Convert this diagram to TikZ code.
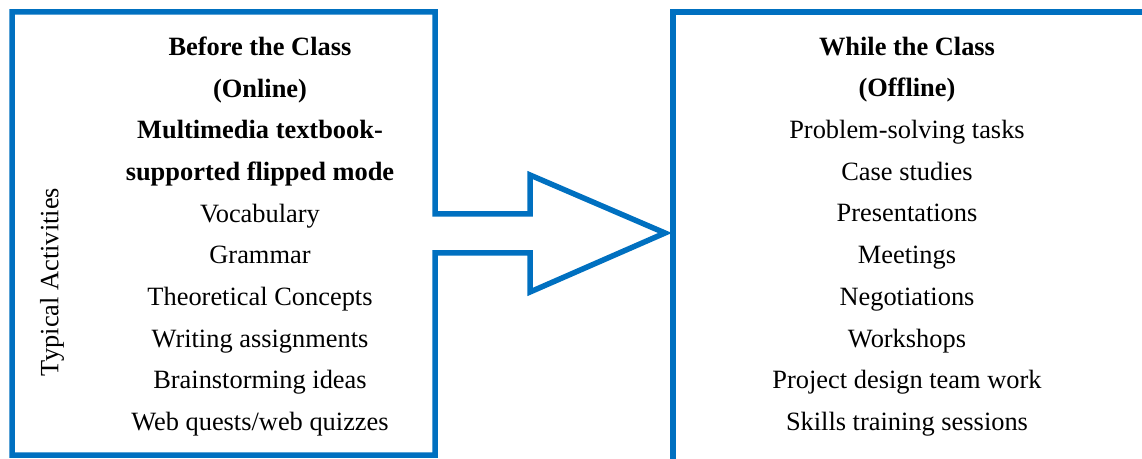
\documentclass[tikz,border=0pt]{standalone}
\usepackage{fontspec}
\setmainfont{Liberation Serif}
\usetikzlibrary{positioning,calc}
\definecolor{frameblue}{HTML}{0070C0}
\newcommand*{\ColText}{\fontsize{26.4}{41.7}\selectfont}

\begin{document}
\begin{tikzpicture}[x=1pt,y=1pt,
  outline/.style={draw=frameblue,line width=5.5pt,line join=miter},
  column/.style={align=center,font=\ColText,inner sep=0pt}]
\useasboundingbox (0,0) rectangle (1142,458);
\draw[outline] (435,244) -- (435,446) -- (12,446) -- (12,3) -- (435,3) -- (435,205)
  -- (530,205) -- (530,166) -- (665,225) -- (530,283) -- (530,244) -- cycle;
\draw[outline] (1160,446) -- (673,446) -- (673,-10);
\node[column] (before) at (260,221.5) {\textbf{Before the Class}\\ \textbf{(Online)}\\
  \textbf{Multimedia textbook-}\\ \textbf{supported flipped mode}\\ Vocabulary\\ Grammar\\
  Theoretical Concepts\\ Writing assignments\\ Brainstorming ideas\\ Web quests/web quizzes};
\node[column] (while) at (907,221.5) {\textbf{While the Class}\\ \textbf{(Offline)}\\
  Problem-solving tasks\\ Case studies\\ Presentations\\ Meetings\\ Negotiations\\
  Workshops\\ Project design team work\\ Skills training sessions};
\node[column,rotate=90] (typical) at (52,176) {Typical Activities};
\end{tikzpicture}
\end{document}
